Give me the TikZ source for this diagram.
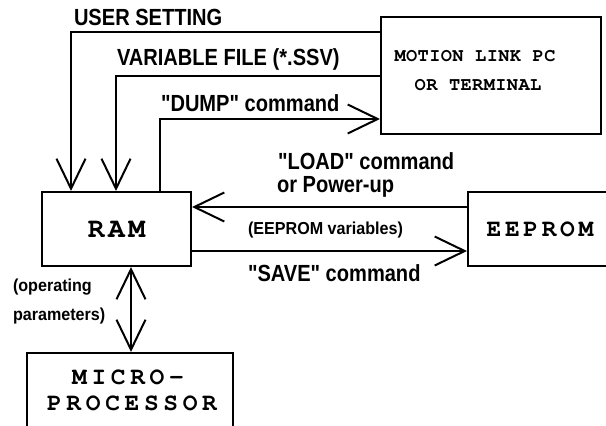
\documentclass[tikz,border=0pt]{standalone}
\usepackage{fontspec}
\setmainfont{Liberation Sans}
\newfontfamily\labelfont[FakeStretch=0.86]{Liberation Sans}
\newfontfamily\smalllabelfont[FakeStretch=0.93]{Liberation Sans}
\newfontfamily\boxfont[Extension=.otf]{texgyrecursor-bold}
\usetikzlibrary{arrows.meta}

\begin{document}
\begin{tikzpicture}[x=0.75pt,y=-0.75pt,line width=1.5pt,
    >={Straight Barb[length=22.5pt,width=21.75pt]},
    blk/.style={draw,rectangle,inner sep=0pt},
    lbl/.style={anchor=west,inner sep=0pt,font=\labelfont\bfseries\fontsize{17.5}{20}\selectfont},
    sml/.style={anchor=west,inner sep=0pt,font=\smalllabelfont\bfseries\fontsize{13}{15}\selectfont},
    pctext/.style={font=\boxfont\fontsize{14}{16}\selectfont\addfontfeatures{LetterSpace=2}},
    big/.style={font=\boxfont\fontsize{18.4}{20}\selectfont\addfontfeatures{LetterSpace=19}}]
    \useasboundingbox (0,0) rectangle (606,425);

    % blocks
    \node[blk,minimum width=111.75pt,minimum height=55.5pt,
      font=\boxfont\fontsize{21}{24}\selectfont\addfontfeatures{LetterSpace=12}] (ram) at (116.5,229) {RAM};
    \node[blk,minimum width=165pt,minimum height=87.75pt] (pc) at (491,75.5) {};
    \node[blk,minimum width=108pt,minimum height=55.5pt,
      font=\boxfont\fontsize{18.4}{20}\selectfont\addfontfeatures{LetterSpace=15}] (ee) at (540,229) {EEPROM};
    \node[blk,minimum width=154.5pt,minimum height=65.25pt] (mp) at (130,396.5) {};

    % text in the blocks
    \node[pctext] (pc1) at (475,56) {MOTION LINK PC};
    \node[pctext] (pc2) at (478,85) {OR TERMINAL};
    \node[big] (mp1) at (128,377) {MICRO-};
    \node[big] (mp2) at (132,403) {PROCESSOR};

    % connectors
    \coordinate (us) at (71,32);
    \coordinate (vf) at (116,76);
    \coordinate (dp) at (160,119);
    \coordinate (ld) at (0,207);
    \coordinate (sv) at (0,251);
    \coordinate (op) at (131,0);
    \draw[->] (us -| pc.west) -- (us) -- (us |- ram.north);
    \draw[->] (vf -| pc.west) -- (vf) -- (vf |- ram.north);
    \draw[->] (dp |- ram.north) -- (dp) -- (dp -| pc.west);
    \draw[->] (ld -| ee.west) -- (ld -| ram.east);
    \draw[->] (sv -| ram.east) -- (sv -| ee.west);
    \draw[<->] (op |- ram.south) -- (op |- mp.north);

    % labels
    \node[lbl] (user) at (73,17) {USER SETTING};
    \node[lbl] (varf) at (116,59) {VARIABLE FILE (*.SSV)};
    \node[lbl] (dump) at (160,103) {"DUMP" command};
    \node[lbl] (load) at (277,161) {"LOAD" command};
    \node[lbl] (pwr) at (276,187) {or Power-up};
    \node[sml] (eevar) at (247,230) {(EEPROM variables)};
    \node[lbl] (save) at (247,273) {"SAVE" command};
    \node[sml] (oper) at (12,287) {(operating};
    \node[sml] (param) at (12,316) {parameters)};
\end{tikzpicture}
\end{document}
